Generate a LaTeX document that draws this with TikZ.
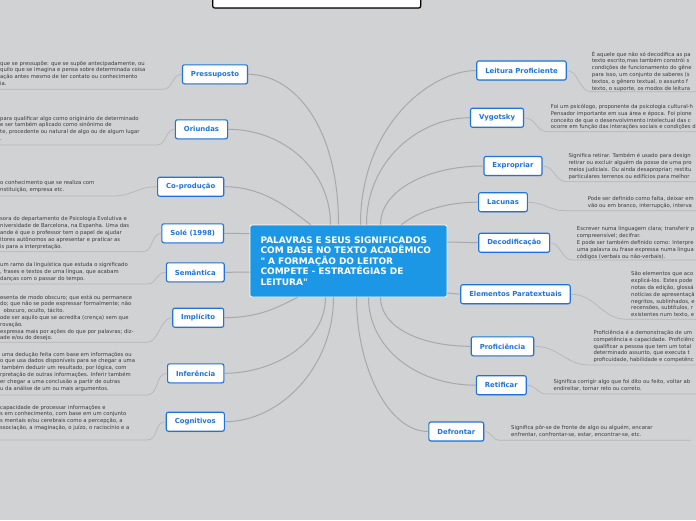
\documentclass[tikz,border=0pt]{standalone}
\usepackage{fontspec}
\setmainfont{DejaVu Sans}
\usepackage{tikz}
\usetikzlibrary{calc,shadows}
\definecolor{mback}{HTML}{D1D2D4}
\definecolor{mblue}{HTML}{1E74DC}
\definecolor{mroot}{HTML}{1C97E6}
\definecolor{mtext}{HTML}{3A3A3A}
\definecolor{mgrey}{HTML}{A9A9AA}
\tikzset{
  mtopic/.style={rounded corners=2pt, draw=mblue, fill=white, line width=1.1pt,
                 text=mblue, font=\fontsize{6.9}{8}\selectfont\bfseries,
                 minimum height=19pt, inner xsep=8.5pt, inner ysep=0pt,
                 drop shadow={shadow xshift=.6pt, shadow yshift=-.8pt, opacity=.3}},
  mcenter/.style={rounded corners=2pt, draw=white, fill=mroot, line width=.8pt,
                  text=white, font=\fontsize{9}{10.4}\selectfont\bfseries,
                  align=left, text width=176pt, inner xsep=10.5pt,
                  minimum height=72pt},
  mtitle/.style={rounded corners=2pt, draw=black, fill=white, line width=1.2pt,
                 minimum width=208pt, minimum height=20pt,
                 drop shadow={shadow xshift=.6pt, shadow yshift=-.8pt, opacity=.3}},
  mnote/.style={anchor=north west, align=left, inner sep=0pt, text=mtext,
                font=\fontsize{5.3}{6.8}\selectfont},
  mbranch/.style={mgrey, line width=1pt},
  mrule/.style={mgrey!85, line width=.7pt},
}

\begin{document}
\begin{tikzpicture}[x=1pt,y=-1pt]
  \useasboundingbox (0,0) rectangle (696,520);
  \clip (0,0) rectangle (696,520);
  \fill[mback] (0,0) rectangle (696,520);

  % title box, cut by the top edge
  \node[mtitle] (title) at (316.7,-2) {};

  % central topic
  \node[mcenter] (root) at (348.5,261) {PALAVRAS E SEUS SIGNIFICADOS\\
    COM BASE NO TEXTO ACADÊMICO\\\textquotedbl{} A FORMAÇÃO DO LEITOR\\
    COMPETE - ESTRATÉGIAS DE\\LEITURA\textquotedbl};

  % where the branches meet the central topic
  \coordinate (root-pressuposto)   at ([xshift=-10pt]root.north);
  \coordinate (root-oriundas)      at ([xshift=-18pt]root.north);
  \coordinate (root-coproducao)    at ([xshift=-38pt]root.north);
  \coordinate (root-sole)          at ([yshift=-9pt]root.north west);
  \coordinate (root-semantica)     at ([yshift=-11pt]root.west);
  \coordinate (root-implicito)     at ([xshift=-51pt]root.south);
  \coordinate (root-inferencia)    at ([xshift=-23pt]root.south);
  \coordinate (root-cognitivos)    at ([xshift=-15pt]root.south);
  \coordinate (root-leitura)       at ([xshift=12pt]root.north);
  \coordinate (root-vygotsky)      at ([xshift=18pt]root.north);
  \coordinate (root-expropriar)    at ([xshift=32pt]root.north);
  \coordinate (root-lacunas)       at ([xshift=53pt]root.north);
  \coordinate (root-decodificacao) at ([yshift=19pt]root.east);
  \coordinate (root-paratextuais)  at ([yshift=-32pt]root.east);
  \coordinate (root-proficiencia)  at ([xshift=32pt]root.south);
  \coordinate (root-retificar)     at ([xshift=20pt]root.south);
  \coordinate (root-defrontar)     at ([xshift=8pt]root.south);

  % left topics
  \node[mtopic] (pressuposto)  at (215,74.3)    {Pressuposto};
  \node[mtopic] (oriundas)     at (201.5,129.3) {Oriundas};
  \node[mtopic] (coproducao)   at (190.7,186.7) {Co-produção};
  \node[mtopic] (sole)         at (192.7,233.3) {Solé (1998)};
  \node[mtopic] (semantica)    at (195.3,272.3) {Semântica};
  \node[mtopic] (implicito)    at (198.2,317.7) {Implícito};
  \node[mtopic] (inferencia)   at (195.7,373.3) {Inferência};
  \node[mtopic] (cognitivos)   at (195.3,421.7) {Cognitivos};

  % right topics
  \node[mtopic] (leitura)       at (521.5,70.5)  {Leitura Proficiente};
  \node[mtopic] (vygotsky)      at (497,117.7)   {Vygotsky};
  \node[mtopic] (expropriar)    at (513,166)     {Expropriar};
  \node[mtopic] (lacunas)       at (503,202.2)   {Lacunas};
  \node[mtopic] (decodificacao) at (514.2,242.7) {Decodificação};
  \node[mtopic] (paratextuais)  at (515.5,294.2) {Elementos Paratextuais};
  \node[mtopic] (proficiencia)  at (502.5,346.3) {Proficiência};
  \node[mtopic] (retificar)     at (501.3,385.2) {Retificar};
  \node[mtopic] (defrontar)     at (456.3,431.5) {Defrontar};

  % branches, left side
  \foreach \t/\a/\b in {pressuposto/{45,0}/{0,-100}, oriundas/{55,0}/{0,-55},
      coproducao/{40,0}/{-20,-15}, sole/{10,0}/{-10,0}, semantica/{10,0}/{-10,0},
      implicito/{35,0}/{-20,10}, inferencia/{50,0}/{0,45}, cognitivos/{55,0}/{0,70}}
    \draw[mbranch] (\t.east) .. controls +(\a) and +(\b) .. (root-\t);

  % branches, right side
  \foreach \t/\a/\b in {leitura/{-45,0}/{0,-100}, vygotsky/{-50,0}/{0,-65},
      expropriar/{-55,0}/{0,-35}, lacunas/{-35,0}/{15,-12},
      decodificacao/{-10,0}/{10,0}, paratextuais/{-6,0}/{6,0},
      proficiencia/{-50,0}/{0,30}, retificar/{-60,0}/{0,50}, defrontar/{-40,0}/{0,70}}
    \draw[mbranch] (\t.west) .. controls +(\a) and +(\b) .. (root-\t);

  % notes, left side (cut by the left edge)
  \node[mnote] (pressuposto-txt) at (0,60.7) {que se pressupõe: que se supõe antecipadamente, ou\\
    quilo que se imagina e pensa sobre determinada coisa\\
    ação antes mesmo de ter contato ou conhecimento\\ ia.};
  \node[mnote] (oriundas-txt) at (0,115.7) { para qualificar algo como originário de determinado\\
    e ser também aplicado como sinônimo de\\
    te, procedente ou natural de algo ou de algum lugar\\.};
  \node[mnote] (coproducao-txt) at (0,180.7) {o conhecimento que se realiza com\\
    nstituição, empresa etc.};
  \node[mnote] (sole-txt) at (0,216.7) {sora do departamento de Psicologia Evolutiva e\\
    niversidade de Barcelona, na Espanha. Uma das\\
    ande é que o professor tem o papel de ajudar\\
    itores autônomos ao apresentar e praticar as\\
    is para a interpretação.};
  \node[mnote] (semantica-txt) at (0,262.4) { um ramo da linguística que estuda o significado\\
    , frases e textos de uma língua, que acabam\\
    danças com o passar do tempo.};
  \node[mnote] (implicito-txt) at (0,294.7) {esenta de modo obscuro; que está ou permanece\\
    do; que não se pode expressar formalmente; não\\
    \ \ obscuro, oculto, tácito.\\
    ode ser aquilo que se acredita (crença) sem que\\
    rovação.\\
    expressa mais por ações do que por palavras; diz-\\
    ade e/ou do desejo.};
  \node[mnote] (inferencia-txt) at (0,351.7) {\ uma dedução feita com base em informações ou\\
    o que usa dados disponíveis para se chegar a uma\\
    \ também deduzir um resultado, por lógica, com\\
    rpretação de outras informações. Inferir também\\
    er chegar a uma conclusão a partir de outras\\
    u da análise de um ou mais argumentos.};
  \node[mnote] (cognitivos-txt) at (0,404.7) { capacidade de processar informações e\\
    s em conhecimento, com base em um conjunto\\
    s mentais e/ou cerebrais como a percepção, a\\
    ssociação, a imaginação, o juízo, o raciocínio e a};

  % notes, right side (cut by the right edge)
  \node[mnote] (leitura-txt) at (591.7,51) {É aquele que não só decodifica as pa\\
    texto escrito,mas também constrói s\\
    condições de funcionamento do gêne\\
    para isso, um conjunto de saberes (s\\
    textos, o gênero textual, o assunto f\\
    texto, o suporte, os modos de leitura};
  \node[mnote] (vygotsky-txt) at (550.7,104) {Foi um psicólogo, proponente da psicologia cultural-h\\
    Pensador importante em sua área e época. Foi pione\\
    conceito de que o desenvolvimento intelectual das c\\
    ocorre em função das interações sociais e condições d};
  \node[mnote] (expropriar-txt) at (568.3,153.5) {Significa retirar. Também é usado para design\\
    retirar ou excluir alguém da posse de uma pro\\
    meios judiciais. Ou ainda desapropriar; restitu\\
    particulares terrenos ou edifícios para melhor};
  \node[mnote] (lacunas-txt) at (587.7,196.5) {Pode ser definido como falta, deixar em\\
    vão ou em branco, interrupção, interva};
  \node[mnote] (decodificacao-txt) at (576.7,226.7) {Escrever numa linguagem clara; transferir p\\
    compreensível; decifrar.\\
    E pode ser também definido como: Interpre\\
    uma palavra ou frase expressa numa lingua\\
    códigos (verbais ou não-verbais).};
  \node[mnote] (paratextuais-txt) at (631,271.5) {São elementos que aco\\
    explicá-los. Estes pode\\
    notas da edição, glossá\\
    notícias de apresentaçã\\
    negritos, sublinhados, e\\
    recensões, subtítulos, r\\
    existentes num texto, e};
  \node[mnote] (proficiencia-txt) at (593.3,330) {Proficiência é a demonstração de um\\
    competência e capacidade. Proficiênc\\
    qualificar a pessoa que tem um total\\
    determinado assunto, que executa t\\
    proficuidade, habilidade e competênc};
  \node[mnote] (retificar-txt) at (553.3,379) {Significa corrigir algo que foi dito ou feito, voltar ab\\
    endireitar, tornar reto ou correto.};
  \node[mnote] (defrontar-txt) at (511,425) {Significa pôr-se de fronte de algo ou alguém, encarar\\
    enfrentar, confrontar-se, estar, encontrar-se, etc.};

  % underlines of the notes
  \foreach \t/\x/\y/\c in {pressuposto/163/89.3/10, oriundas/157/145/10,
      coproducao/113/196/20, sole/143/251.7/10, semantica/147/284/10,
      implicito/147/342.3/12, inferencia/147/395/12, cognitivos/147/440/12}
  {
    \coordinate (\t-u) at (\x,\y);
    \draw[mrule] (\t.west) .. controls +(-\c,0) and +(\c,0) .. (\t-u) -- ++(-170,0);
  }
  \foreach \t/\x/\y/\c in {leitura/591/91.7/12, vygotsky/548/131.7/12,
      expropriar/566.7/181.7/12, lacunas/565/210.7/15, decodificacao/572/260/10,
      paratextuais/626.7/319.3/25, proficiencia/590/365/25, retificar/546.7/394/10}
  {
    \coordinate (\t-u) at (\x,\y);
    \draw[mrule] (\t.east) .. controls +(\c,0) and +(-\c,0) .. (\t-u) -- ++(160,0);
  }
  \coordinate (defrontar-u) at (500,440.3);
  \coordinate (defrontar-v) at (690.7,440.3);
  \draw[mrule] (defrontar.east) .. controls +(8,0) and +(-8,0) .. (defrontar-u) -- (defrontar-v);

\end{tikzpicture}
\end{document}
